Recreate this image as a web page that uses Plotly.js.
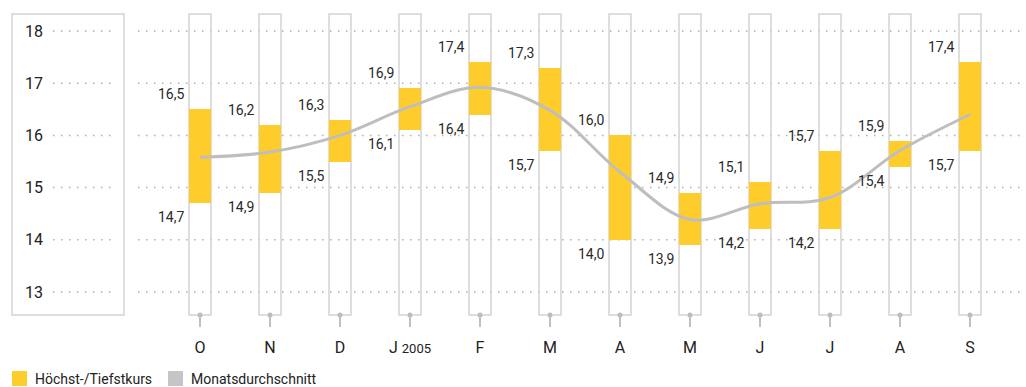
<!DOCTYPE html>
<html>
<head>
<meta charset="utf-8">
<script src="https://cdn.plot.ly/plotly-3.0.1.min.js"></script>
<style>html,body{margin:0;padding:0;background:#fff;}#chart{width:1026px;height:387px;}</style>
</head>
<body>
<div id="chart"></div>
<script>
const categories = ['O', 'N', 'D', 'J <span style="font-size:13px">2005</span>', 'F', 'M', 'A', 'M', 'J', 'J', 'A', 'S'];
const highValues = [16.5, 16.2, 16.3, 16.9, 17.4, 17.3, 16.0, 14.9, 15.1, 15.7, 15.9, 17.4];
const lowValues  = [14.7, 14.9, 15.5, 16.1, 16.4, 15.7, 14.0, 13.9, 14.2, 14.2, 15.4, 15.7];
const avgValues  = [15.58, 15.68, 16.0, 16.55, 16.92, 16.48, 15.3, 14.39, 14.69, 14.81, 15.71, 16.4];
const yTicks = [13, 14, 15, 16, 17, 18];
const legendNames = ['Höchst-/Tiefstkurs', 'Monatsdurchschnitt'];

const W = 1026, H = 387, T = 14, B = 72;
const plotH = H - T - B;
const yRange = [12.56, 18.325];
const xRange = [-200 / 70, (W - 200) / 70];
const idx = categories.map((_, i) => i);
const yellow = '#FFCD2B';
const lineGray = '#BEBEBE';
const boxGray = '#D3D3D3';
const font = 'Roboto, "Open Sans", sans-serif';
const px = v => v / W;
const py = v => (H - B - v) / plotH;
const fmt = v => v.toFixed(1).replace('.', ',');

const traces = [
  {
    type: 'bar', x: idx, y: highValues.map((h, i) => h - lowValues[i]), base: lowValues,
    width: 0.32, marker: {color: yellow, line: {width: 0}}, hoverinfo: 'skip', showlegend: false
  },
  {
    type: 'scatter', mode: 'lines', x: idx, y: avgValues,
    line: {shape: 'spline', smoothing: 1, color: lineGray, width: 3}, hoverinfo: 'skip', showlegend: false
  },
  {
    type: 'scatter', mode: 'markers', x: idx, y: idx.map(() => yRange[0]), cliponaxis: false,
    marker: {size: 5, color: '#BDBDBD'}, hoverinfo: 'skip', showlegend: false
  }
];

const shapes = [];
shapes.push({type: 'rect', xref: 'paper', yref: 'paper', x0: px(12), x1: px(124), y0: 0, y1: 1,
  line: {color: boxGray, width: 1.5}, layer: 'below'});
yTicks.forEach(t => {
  shapes.push({type: 'line', xref: 'paper', yref: 'y', x0: px(53), x1: px(111), y0: t, y1: t,
    line: {color: '#B0B0B0', width: 1.5, dash: '1.5px,6.5px'}, layer: 'below'});
  shapes.push({type: 'line', xref: 'paper', yref: 'y', x0: px(138), x1: 1, y0: t, y1: t,
    line: {color: '#B0B0B0', width: 1.5, dash: '1.5px,6.5px'}, layer: 'below'});
});
idx.forEach(i => {
  shapes.push({type: 'rect', xref: 'x', yref: 'paper', x0: i - 0.157, x1: i + 0.157, y0: 0, y1: 1,
    line: {color: boxGray, width: 1.5}, layer: 'below'});
});
// legend squares
shapes.push({type: 'rect', xref: 'paper', yref: 'paper', x0: px(12), x1: px(27), y0: py(371), y1: py(386),
  fillcolor: yellow, line: {width: 0}});
shapes.push({type: 'rect', xref: 'paper', yref: 'paper', x0: px(168), x1: px(183), y0: py(371), y1: py(386),
  fillcolor: '#C5C5C8', line: {width: 0}});

const annotations = [];
idx.forEach(i => {
  annotations.push({x: i, y: highValues[i], xref: 'x', yref: 'y', text: fmt(highValues[i]), showarrow: false,
    xanchor: 'right', yanchor: 'bottom', xshift: -14, yshift: 5, font: {family: font, size: 14, color: '#2a2a2a'}});
  annotations.push({x: i, y: lowValues[i], xref: 'x', yref: 'y', text: fmt(lowValues[i]), showarrow: false,
    xanchor: 'right', yanchor: 'top', xshift: -14, yshift: -4, font: {family: font, size: 14, color: '#2a2a2a'}});
});
annotations.push({x: px(33), y: py(379), xref: 'paper', yref: 'paper', text: legendNames[0], showarrow: false,
  xanchor: 'left', yanchor: 'middle', font: {family: font, size: 14, color: '#222'}});
annotations.push({x: px(189), y: py(379), xref: 'paper', yref: 'paper', text: legendNames[1], showarrow: false,
  xanchor: 'left', yanchor: 'middle', font: {family: font, size: 14, color: '#222'}});

const layout = {
  width: W, height: H,
  margin: {l: 0, r: 0, t: T, b: B, pad: 0},
  paper_bgcolor: '#fff', plot_bgcolor: 'rgba(0,0,0,0)',
  showlegend: false,
  bargap: 0,
  xaxis: {
    range: xRange, tickvals: idx, ticktext: categories, ticks: 'outside', ticklen: 11, tickwidth: 1.5,
    tickcolor: '#C0C0C0', showgrid: false, zeroline: false, showline: false, fixedrange: true,
    tickfont: {family: font, size: 16, color: '#222'}, ticklabelstandoff: 7
  },
  yaxis: {
    range: yRange, tickvals: yTicks, ticktext: yTicks.map(String), ticks: '', showgrid: false, zeroline: false,
    showline: false, ticklabelposition: 'inside', ticklabelstandoff: 22, fixedrange: true,
    tickfont: {family: font, size: 16, color: '#222'}
  },
  shapes: shapes,
  annotations: annotations
};

Plotly.newPlot('chart', traces, layout, {displayModeBar: false, staticPlot: true});
</script>
</body>
</html>
